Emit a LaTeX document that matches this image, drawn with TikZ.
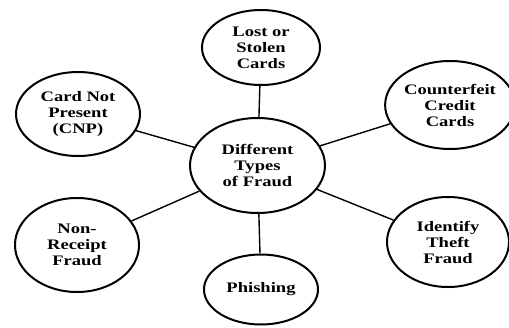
\documentclass[tikz,border=0pt]{standalone}
\usepackage{fontspec}
\newfontfamily\fraudfont{Liberation Serif}[FakeStretch=1.28]
\usetikzlibrary{shapes.geometric}
\tikzset{
  fraud/.style={draw, ellipse, line width=2pt, inner sep=0pt, align=center,
    font=\fraudfont\bfseries\fontsize{14.5}{16}\selectfont},
  link/.style={line width=1.4pt}
}

\begin{document}
\begin{tikzpicture}[x=1pt,y=-1pt]
        \useasboundingbox (0,0) rectangle (509,327);
        \node[fraud, minimum width=135pt, minimum height=95pt] (hub) at (257.5,165.5) {Different\\Types\\of Fraud};
        \node[fraud, minimum width=118pt, minimum height=75pt] (lost) at (261,47.5) {Lost or\\Stolen\\Cards};
        \node[fraud, minimum width=124pt, minimum height=84pt] (cnp) at (78,114) {Card Not\\Present\\(CNP)};
        \node[fraud, minimum width=122pt, minimum height=88pt] (fake) at (450,105) {Counterfeit\\Credit\\Cards};
        \node[fraud, minimum width=124pt, minimum height=94pt] (nonrec) at (77,245) {Non-\\Receipt\\Fraud};
        \node[fraud, minimum width=122pt, minimum height=90pt] (theft) at (448,242) {Identify\\Theft\\Fraud};
        \node[fraud, minimum width=114pt, minimum height=70pt] (phish) at (261,289.5) {Phishing};
        \draw[link] (hub) -- (lost);
        \draw[link] (hub) -- (cnp);
        \draw[link] (hub) -- (fake);
        \draw[link] (hub) -- (nonrec);
        \draw[link] (hub) -- (theft);
        \draw[link] (hub) -- (phish);
      \end{tikzpicture}
\end{document}
